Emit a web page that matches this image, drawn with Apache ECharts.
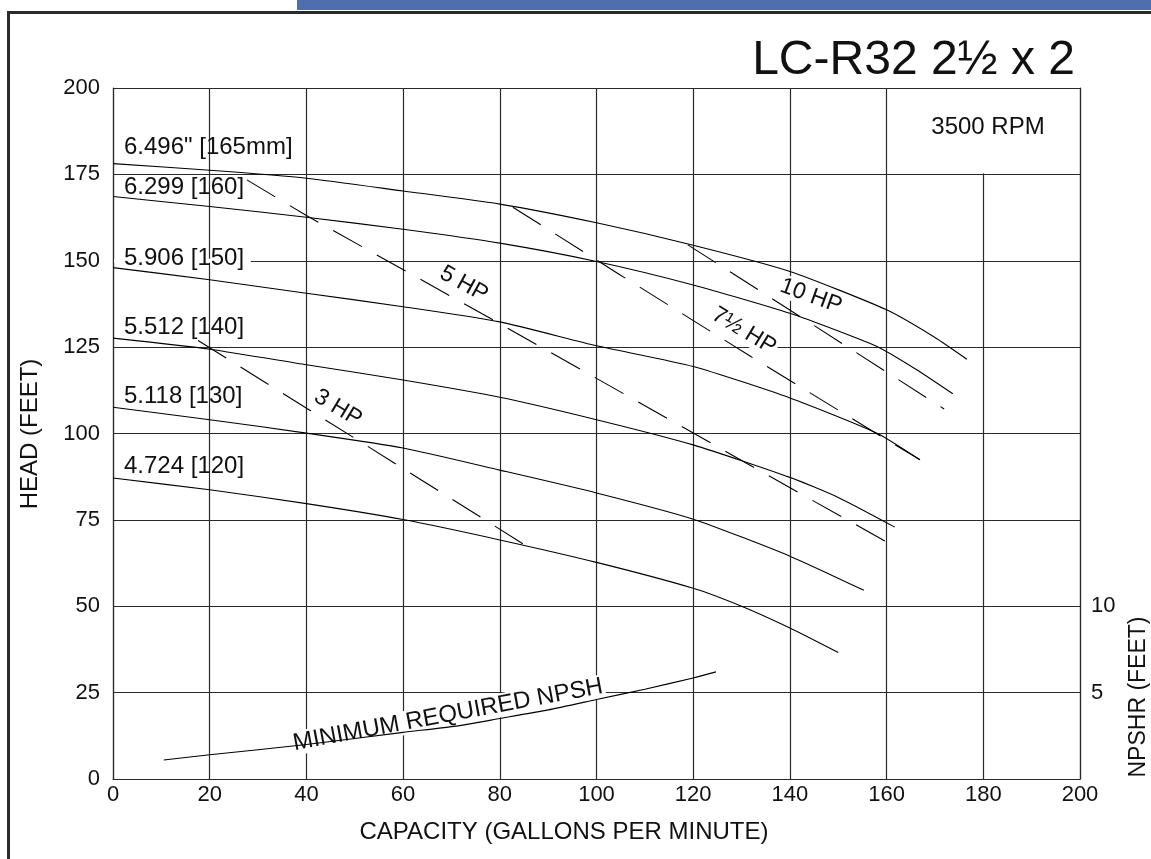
<!DOCTYPE html>
<html><head><meta charset="utf-8">
<script src="https://cdn.jsdelivr.net/npm/echarts@6/dist/echarts.min.js"></script>
<style>html,body{margin:0;padding:0;background:#fff}#c{width:1151px;height:859px}</style>
</head><body><div id="c"></div>
<script>
// ---- data (capacity gpm, head ft) ----
const capacityTicks = [0,20,40,60,80,100,120,140,160,180,200];
const headTicks = [0,25,50,75,100,125,150,175,200];
const npshrTicks = [5,10];

const imp165 = [[0,178.1],[20,176.2],[40,173.9],[60,170.2],[80,166.4],[100,161.0],[120,154.5],[140,146.9],[160,135.8],[170,127.8],[176.6,121.5]];
const imp160 = [[0,168.6],[20,165.7],[40,162.6],[60,159.1],[80,155.1],[100,149.8],[120,143.0],[140,134.8],[158,125.2],[166.3,118.4],[173.7,111.5]];
const imp150 = [[0,148.0],[20,144.5],[40,140.6],[60,136.7],[80,132.3],[100,125.4],[120,119.4],[140,110.3],[158,100.1],[166.9,92.4]];
const imp140 = [[0,127.6],[20,124.4],[40,119.9],[60,115.5],[80,110.5],[100,104.0],[120,96.7],[140,87.3],[150,81.5],[161.7,72.9]];
const imp130 = [[0,107.6],[20,104.0],[40,100.1],[60,95.8],[80,89.4],[100,82.8],[120,75.2],[140,64.5],[155.3,54.6]];
const imp120 = [[0,87.1],[20,83.7],[40,79.7],[60,75.1],[80,69.2],[100,62.7],[120,55.2],[130,50.0],[140,43.7],[150,36.6]];

const hp3  = [[17.6,126.9],[50.5,98.2],[85.8,67.2]];
const hp5  = [[27.7,173.4],[40.1,163.0],[78.2,133.2],[143.3,81.7],[159.9,68.7]];
const hp75 = [[82.7,165.5],[104.9,145.9],[132.0,122.2],[159.3,98.8],[166.9,92.4]];
const hp10 = [[118.9,154.6],[143.5,132.6],[171.9,107.1]];

// NPSHR (feet) on the right axis
const npshr = [[10.5,1.1],[20,1.4],[40,2.0],[60,2.7],[71,3.06],[80,3.5],[90,4.0],[100,4.6],[110,5.2],[120,5.85],[124.7,6.2]];

const curveLabels = ['6.496" [165mm]','6.299 [160]','5.906 [150]','5.512 [140]','5.118 [130]','4.724 [120]'];

// ---- chart ----
const FONT = '"Liberation Sans", Arial, Helvetica, sans-serif';
const INK = '#111';
const GRID = '#2a2a2a';
const chart = echarts.init(document.getElementById('c'));

function solid(data, yIdx) {
  return {type:'line', data, yAxisIndex:yIdx||0, showSymbol:false, smooth:0.2, silent:true,
    lineStyle:{color:'#000', width:1.1}, z:3};
}
function dashed(data) {
  return {type:'line', data, showSymbol:false, silent:true,
    lineStyle:{color:'#000', width:1.1, type:[33,17]}, z:3};
}

chart.setOption({
  animation:false,
  grid:{left:113, top:88, right:71, bottom:80},
  xAxis:{type:'value', min:capacityTicks[0], max:capacityTicks[capacityTicks.length-1], interval:20,
    axisLine:{show:true, lineStyle:{color:GRID, width:1.2}}, axisTick:{show:false},
    axisLabel:{color:INK, fontSize:22, fontFamily:FONT, margin:5},
    splitLine:{show:true, lineStyle:{color:GRID, width:1.2}}},
  yAxis:[
    {type:'value', min:headTicks[0], max:headTicks[headTicks.length-1], interval:25,
      axisLine:{show:true, lineStyle:{color:GRID, width:1.2}}, axisTick:{show:false},
      axisLabel:{color:INK, fontSize:22, fontFamily:FONT, margin:13},
      splitLine:{show:true, lineStyle:{color:GRID, width:1.2}}},
    {type:'value', min:0, max:40, interval:5, position:'right',
      axisLine:{show:true, lineStyle:{color:GRID, width:1.2}}, axisTick:{show:false},
      axisLabel:{color:INK, fontSize:22, fontFamily:FONT, margin:11,
        formatter:v => npshrTicks.indexOf(v) >= 0 ? String(v) : ''},
      splitLine:{show:false}}
  ],
  series:[
    solid(imp165), solid(imp160), solid(imp150), solid(imp140), solid(imp130), solid(imp120),
    dashed(hp3), dashed(hp5), dashed(hp75), dashed(hp10),
    solid(npshr, 1)
  ]
});

const px = (x, y) => chart.convertToPixel({xAxisIndex:0, yAxisIndex:0}, [x, y]);
const p150a = px(0,150), p150b = px(28.5,150);
const p180t = px(180,200), p180b = px(180,175);

function txt(text, x, y, o) {
  o = o || {};
  return {type:'text', x, y, rotation:o.rot||0, z:o.z||5,
    style:{text, fontSize:o.size||24, fontFamily:FONT, fill:INK,
      align:o.align||'left', verticalAlign:'middle',
      backgroundColor:o.bg||null, padding:o.pad||0}};
}
const deg = d => d*Math.PI/180;
const labelY = [147,187,258,327,396,466];

chart.setOption({graphic:[
  {type:'rect', shape:{x:297, y:0, width:854, height:10}, style:{fill:'#4F6EAD'}, z:10},
  {type:'rect', shape:{x:7, y:11, width:1144, height:3}, style:{fill:'#2b2b2b'}, z:10},
  {type:'rect', shape:{x:7, y:11, width:3, height:848}, style:{fill:'#2b2b2b'}, z:10},
  // gaps in the grid
  {type:'rect', shape:{x:p150a[0]+1, y:p150a[1]-2, width:p150b[0]-p150a[0]-1, height:4}, style:{fill:'#fff'}, z:1},
  {type:'rect', shape:{x:p180t[0]-2, y:p180t[1]+1, width:4, height:p180b[1]-p180t[1]-2}, style:{fill:'#fff'}, z:1},
  txt('LC-R32 2½ x 2', 1075, 61, {size:48, align:'right'}),
  txt('3500 RPM', 988, 127, {size:24, align:'center'}),
  txt('CAPACITY (GALLONS PER MINUTE)', 564, 832, {size:24, align:'center'}),
  txt('HEAD (FEET)', 30, 434, {size:24, align:'center', rot:deg(90)}),
  txt('NPSHR (FEET)', 1139, 697, {size:23, align:'center', rot:deg(90)}),
  ...curveLabels.map((t,i) => txt(t, 124, labelY[i], {size:24})),
  txt('5 HP', 464, 284, {size:23, align:'center', rot:deg(-29)}),
  txt('3 HP', 338, 408, {size:23, align:'center', rot:deg(-31)}),
  txt('7½ HP', 744, 331, {size:23, align:'center', rot:deg(-31), bg:'#fff', pad:[0,2], z:1}),
  txt('10 HP', 811, 296, {size:23, align:'center', rot:deg(-20), bg:'#fff', pad:[0,2], z:1}),
  txt('MINIMUM REQUIRED NPSH', 448, 715, {size:24, align:'center', rot:deg(10.5), bg:'#fff', pad:[0,2], z:1})
]});
</script></body></html>
